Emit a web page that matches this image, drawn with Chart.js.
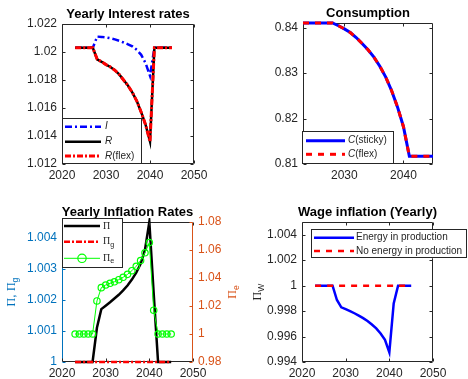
<!DOCTYPE html>
<html>
<head>
<meta charset="utf-8">
<script src="https://cdn.jsdelivr.net/npm/chart.js@4/dist/chart.umd.min.js"></script>
<style>
  html, body { margin: 0; padding: 0; background: #fff; }
  #fig { position: relative; width: 468px; height: 379px; overflow: hidden; }
  #fig canvas { position: absolute; }
</style>
</head>
<body>
<div id="fig">
  <canvas id="c-rates" width="234" height="190" style="left:0;top:0"></canvas>
  <canvas id="c-cons" width="234" height="190" style="left:234px;top:0"></canvas>
  <canvas id="c-infl" width="250" height="189" style="left:0;top:190px"></canvas>
  <canvas id="c-wage" width="218" height="189" style="left:250px;top:190px"></canvas>
</div>
<script>
// ---- data ----
const years = [2023, 2024, 2025, 2026, 2027, 2028, 2029, 2030, 2031, 2032, 2033, 2034,
               2035, 2036, 2037, 2038, 2039, 2040, 2041, 2042, 2043, 2044, 2045];

const rateI     = [1.0203, 1.0203, 1.0203, 1.0203, 1.0203, 1.0211, 1.02108, 1.02104, 1.02098, 1.0209, 1.0208, 1.02068,
                   1.02055, 1.0204, 1.02015, 1.0198, 1.0192, 1.0183, 1.0203, 1.0203, 1.0203, 1.0203, 1.0203];
const rateR     = [1.0203, 1.0203, 1.0203, 1.0203, 1.0203, 1.01948, 1.0193, 1.0191, 1.01893, 1.0187, 1.0184, 1.0180,
                   1.0176, 1.0171, 1.0165, 1.0157, 1.0148, 1.0136, 1.0203, 1.0203, 1.0203, 1.0203, 1.0203];
const rateRflex = [1.0203, 1.0203, 1.0203, 1.0203, 1.0203, 1.01948, 1.0193, 1.0191, 1.01893, 1.0187, 1.0184, 1.0180,
                   1.0176, 1.0171, 1.0165, 1.0157, 1.0148, 1.0136, 1.0203, 1.0203, 1.0203, 1.0203, 1.0203];

const consSticky = [0.841, 0.841, 0.841, 0.841, 0.841, 0.841, 0.8404, 0.8397, 0.8389, 0.8378, 0.8365, 0.8351,
                    0.8335, 0.8315, 0.8291, 0.8261, 0.8225, 0.8182, 0.8117, 0.8117, 0.8117, 0.8117, 0.8117];
const consFlex   = [0.841, 0.841, 0.841, 0.841, 0.841, 0.841, 0.8404, 0.8397, 0.8389, 0.8378, 0.8365, 0.8351,
                    0.8335, 0.8315, 0.8291, 0.8261, 0.8225, 0.8182, 0.8117, 0.8117, 0.8117, 0.8117, 0.8117];

const inflPi  = [1, 1, 1, 1, 1, 1.0011, 1.0017, 1.00181, 1.00192, 1.00204, 1.00216, 1.0023,
                 1.00246, 1.00265, 1.00287, 1.00316, 1.0036, 1.0045, 1.0022, 1, 1, 1, 1];
const inflPiG = [1, 1, 1, 1, 1, 1, 1, 1, 1, 1, 1, 1, 1, 1, 1, 1, 1, 1, 1, 1, 1, 1, 1];
const inflPiE = [1, 1, 1, 1, 1, 1.0236, 1.0331, 1.0350, 1.0362, 1.0373, 1.0388, 1.0405,
                 1.0426, 1.0452, 1.0484, 1.0525, 1.058, 1.0653, 1.0170, 1, 1, 1, 1];

const wageEnergy   = [1, 1, 1, 1, 1, 0.99887, 0.9983, 0.99815, 0.998, 0.99783, 0.99765, 0.99745,
                      0.99722, 0.99695, 0.99664, 0.99624, 0.99574, 0.99475, 0.9986, 1, 1, 1, 1];
const wageNoEnergy = [1, 1, 1, 1, 1, 1, 1, 1, 1, 1, 1, 1, 1, 1, 1, 1, 1, 1, 1, 1, 1, 1, 1];

// tick values
const yearTicks      = [2020, 2030, 2040, 2050];
const yearTicksShort = [2030, 2040];
const rateTicks  = [1.012, 1.014, 1.016, 1.018, 1.02, 1.022];
const consTicks  = [0.81, 0.82, 0.83, 0.84];
const piTicks    = [1, 1.001, 1.002, 1.003, 1.004];
const piETicks   = [0.98, 1, 1.02, 1.04, 1.06, 1.08];
const wageTicks  = [0.994, 0.996, 0.998, 1, 1.002, 1.004];

// ---- styling helpers ----
const AX = '#262626';
const BLUE_AX = '#0072BD';
const ORANGE_AX = '#D95319';
const FONT = '"Liberation Sans", Arial, sans-serif';
const SERIF = '"Liberation Serif", "DejaVu Serif", serif';
const TICK_SIZE = 12;

const pts = arr => years.map((yr, i) => ({ x: yr, y: arr[i] }));
const fmt = v => String(parseFloat(Number(v).toFixed(6)));

// tiny markup: *italic*, _x subscript
function parseRich(s) {
  const out = [];
  let italic = false;
  for (let i = 0; i < s.length; i++) {
    const ch = s[i];
    if (ch === '*') { italic = !italic; continue; }
    if (ch === '_') { out.push({ t: s[++i], italic, sub: true }); continue; }
    out.push({ t: ch, italic, sub: false });
  }
  return out;
}
function richFont(g, size) {
  const sz = g.sub ? size * 0.72 : size;
  const fam = /[\u0370-\u03ff]/.test(g.t) ? SERIF : FONT;
  return (g.italic ? 'italic ' : '') + sz + 'px ' + fam;
}
function drawRich(ctx, s, x, y, size, color, align) {
  const segs = parseRich(s);
  let w = 0;
  segs.forEach(g => { ctx.font = richFont(g, size); g.w = ctx.measureText(g.t).width; w += g.w; });
  let cx = align === 'center' ? x - w / 2 : x;
  ctx.fillStyle = color;
  ctx.textAlign = 'left';
  ctx.textBaseline = 'middle';
  segs.forEach(g => {
    ctx.font = richFont(g, size);
    ctx.fillText(g.t, cx, y + (g.sub ? size * 0.32 : 0));
    cx += g.w;
  });
}

function xScale(min, max, ticks, h) {
  return {
    type: 'linear', min, max,
    grid: { display: false, drawTicks: false }, border: { display: false },
    afterBuildTicks: s => { s.ticks = ticks.map(v => ({ value: v })); },
    afterFit: s => { s.height = h; s.paddingLeft = 0; s.paddingRight = 0; },
    ticks: { color: AX, font: { family: FONT, size: TICK_SIZE }, padding: 4, maxRotation: 0, autoSkip: false, callback: v => String(v) },
  };
}
function yScale(min, max, ticks, w, color, position) {
  return {
    type: 'linear', min, max, position: position || 'left',
    grid: { display: false, drawTicks: false }, border: { display: false },
    afterBuildTicks: s => { s.ticks = ticks.map(v => ({ value: v })); },
    afterFit: s => { s.width = w; s.paddingTop = 0; s.paddingBottom = 0; },
    ticks: { color: color || AX, font: { family: FONT, size: TICK_SIZE }, padding: 5, autoSkip: false, callback: fmt },
  };
}

// MATLAB-like frame: box, inward ticks, title, y labels, legend
function frameEdges(a) {
  return { L: Math.round(a.left) + 0.5, R: Math.round(a.right) - 0.5, T: Math.round(a.top) + 0.5, B: Math.round(a.bottom) - 0.5 };
}
function seg(ctx, x1, y1, x2, y2, c) {
  ctx.strokeStyle = c; ctx.beginPath(); ctx.moveTo(x1, y1); ctx.lineTo(x2, y2); ctx.stroke();
}

const framePlugin = {
  id: 'frame',
  beforeDatasetsDraw(chart, args, o) {
    const { ctx, chartArea: a } = chart;
    const { L, R, T, B } = frameEdges(a);
    const lc = o.leftColor || AX, rc = o.rightColor || AX;
    ctx.save();
    ctx.lineWidth = 1;
    seg(ctx, L, T, R, T, AX); seg(ctx, L, B, R, B, AX);
    seg(ctx, L, T, L, B, lc); seg(ctx, R, T, R, B, rc);
    ctx.restore();
  },
  afterDraw(chart, args, o) {
    const { ctx, chartArea: a, scales } = chart;
    const { L, R, T, B } = frameEdges(a);
    const lc = o.leftColor || AX, rc = o.rightColor || AX;
    ctx.save();
    ctx.lineWidth = 1;
    const tk = 3;
    scales.x.ticks.forEach(t => {
      const px = Math.round(scales.x.getPixelForValue(t.value)) + 0.5;
      seg(ctx, px, B, px, B - tk, AX); seg(ctx, px, T, px, T + tk, AX);
    });
    const yl = scales.y, yr = scales.y2 || scales.y;
    yl.ticks.forEach(t => { const py = Math.round(yl.getPixelForValue(t.value)) + 0.5; seg(ctx, L, py, L + tk, py, lc); });
    yr.ticks.forEach(t => { const py = Math.round(yr.getPixelForValue(t.value)) + 0.5; seg(ctx, R, py, R - tk, py, rc); });

    // title
    ctx.font = 'bold 13px ' + FONT;
    ctx.fillStyle = '#000';
    ctx.textAlign = 'center';
    ctx.textBaseline = 'middle';
    ctx.fillText(o.title, (a.left + a.right) / 2, a.top - 10);

    // rotated y labels
    (o.ylabels || []).forEach(lb => {
      ctx.save();
      ctx.translate(lb.x, (a.top + a.bottom) / 2);
      ctx.rotate(-Math.PI / 2);
      drawRich(ctx, lb.text, 0, 0, 12, lb.color, 'center');
      ctx.restore();
    });

    // legend
    const lg = o.legend;
    if (lg) {
      const [x0, y0, x1, y1] = lg.box;
      ctx.fillStyle = '#fff';
      ctx.fillRect(x0, y0, x1 - x0, y1 - y0);
      ctx.strokeStyle = AX;
      ctx.setLineDash([]);
      ctx.strokeRect(Math.round(x0) + 0.5, Math.round(y0) + 0.5, Math.round(x1 - x0) - 1, Math.round(y1 - y0) - 1);
      lg.items.forEach((di, k) => {
        const ds = chart.data.datasets[di];
        const y = lg.rows[k];
        ctx.save();
        ctx.strokeStyle = ds.borderColor;
        ctx.lineWidth = ds.borderWidth;
        ctx.setLineDash(ds.borderDash || []);
        ctx.beginPath(); ctx.moveTo(lg.line[0], y); ctx.lineTo(lg.line[1], y); ctx.stroke();
        if (ds.pointRadius > 0) {
          ctx.setLineDash([]);
          ctx.lineWidth = ds.pointBorderWidth;
          ctx.beginPath();
          ctx.arc((lg.line[0] + lg.line[1]) / 2, y, ds.pointRadius + 1, 0, Math.PI * 2);
          ctx.stroke();
        }
        ctx.restore();
        drawRich(ctx, ds.label, lg.textX, y, 10, AX, 'left');
      });
    }
    ctx.restore();
  },
};

function makeChart(id, datasets, scales, padding, frame) {
  return new Chart(document.getElementById(id), {
    type: 'line',
    data: { datasets },
    options: {
      responsive: false,
      animation: false,
      events: [],
      layout: { padding },
      elements: { line: { tension: 0, fill: false }, point: { radius: 0 } },
      datasets: { line: { clip: 4 } },
      plugins: { legend: { display: false }, tooltip: { enabled: false }, frame },
      scales,
    },
    plugins: [framePlugin],
  });
}

// ---- Yearly Interest rates ----
makeChart('c-rates', [
  { label: '*R*(flex)', data: pts(rateRflex), borderColor: '#ff0000', borderWidth: 3, borderDash: [6, 2, 2, 2], pointRadius: 0, order: 0 },
  { label: '*R*', data: pts(rateR), borderColor: '#000000', borderWidth: 2.5, pointRadius: 0, order: 1 },
  { label: '*I*', data: pts(rateI), borderColor: '#0000ff', borderWidth: 2.5, borderDash: [7, 3, 2, 3], pointRadius: 0, order: 2 },
], {
  x: xScale(2020, 2050, yearTicks, 26),
  y: yScale(1.012, 1.022, rateTicks, 62),
}, { left: 0, top: 24, right: 40, bottom: 0 }, {
  title: 'Yearly Interest rates',
  legend: { box: [62, 118, 142, 164], line: [65, 101], textX: 105, rows: [126.7, 141.7, 156], items: [2, 1, 0] },
});

// ---- Consumption ----
makeChart('c-cons', [
  { label: '*C*(flex)', data: pts(consFlex), borderColor: '#ff0000', borderWidth: 3, borderDash: [6, 6], pointRadius: 0, order: 0 },
  { label: '*C*(sticky)', data: pts(consSticky), borderColor: '#0000ff', borderWidth: 3, pointRadius: 0, order: 1 },
], {
  x: xScale(2023, 2045, yearTicksShort, 26),
  y: yScale(0.81, 0.841, consTicks, 69),
}, { left: 0, top: 23, right: 35, bottom: 0 }, {
  title: 'Consumption',
  legend: { box: [68, 131, 160, 164], line: [72, 111], textX: 114, rows: [140.7, 154.3], items: [1, 0] },
});

// ---- Yearly Inflation Rates ----
makeChart('c-infl', [
  { label: 'Π_e', data: pts(inflPiE), yAxisID: 'y2', borderColor: '#00ff00', borderWidth: 1, pointRadius: 3.2, pointStyle: 'circle',
    pointBorderColor: '#00ff00', pointBackgroundColor: 'rgba(0,0,0,0)', pointBorderWidth: 1.2, order: 0 },
  { label: 'Π_g', data: pts(inflPiG), yAxisID: 'y', borderColor: '#ff0000', borderWidth: 2.5, borderDash: [6, 2, 2, 2], pointRadius: 0, order: 1 },
  { label: 'Π', data: pts(inflPi), yAxisID: 'y', borderColor: '#000000', borderWidth: 2.5, pointRadius: 0, order: 2 },
], {
  x: xScale(2020, 2050, yearTicks, 17),
  y: yScale(1, 1.0045, piTicks, 62, BLUE_AX, 'left'),
  y2: yScale(0.98, 1.08, piETicks, 57, ORANGE_AX, 'right'),
}, { left: 0, top: 32, right: 0, bottom: 0 }, {
  title: 'Yearly Inflation Rates',
  leftColor: BLUE_AX, rightColor: ORANGE_AX,
  ylabels: [{ text: 'Π, Π_g', x: 12, color: BLUE_AX }, { text: 'Π_e', x: 233, color: ORANGE_AX }],
  legend: { box: [62, 28, 123, 78], line: [64, 100], textX: 103, rows: [36, 51.7, 68.3], items: [2, 1, 0] },
});

// ---- Wage inflation (Yearly) ----
makeChart('c-wage', [
  { label: 'No energy in production', data: pts(wageNoEnergy), borderColor: '#ff0000', borderWidth: 2.5, borderDash: [6, 6], pointRadius: 0, order: 0 },
  { label: 'Energy in production', data: pts(wageEnergy), borderColor: '#0000ff', borderWidth: 2.5, pointRadius: 0, order: 1 },
], {
  x: xScale(2020, 2050, yearTicks, 17),
  y: yScale(0.994, 1.005, wageTicks, 52),
}, { left: 0, top: 32, right: 35, bottom: 0 }, {
  title: 'Wage inflation (Yearly)',
  ylabels: [{ text: 'Π_W', x: 8, color: AX }],
  legend: { box: [61, 39, 217, 68.3], line: [64, 104], textX: 106, rows: [47.7, 61], items: [1, 0] },
});
</script>
</body>
</html>
